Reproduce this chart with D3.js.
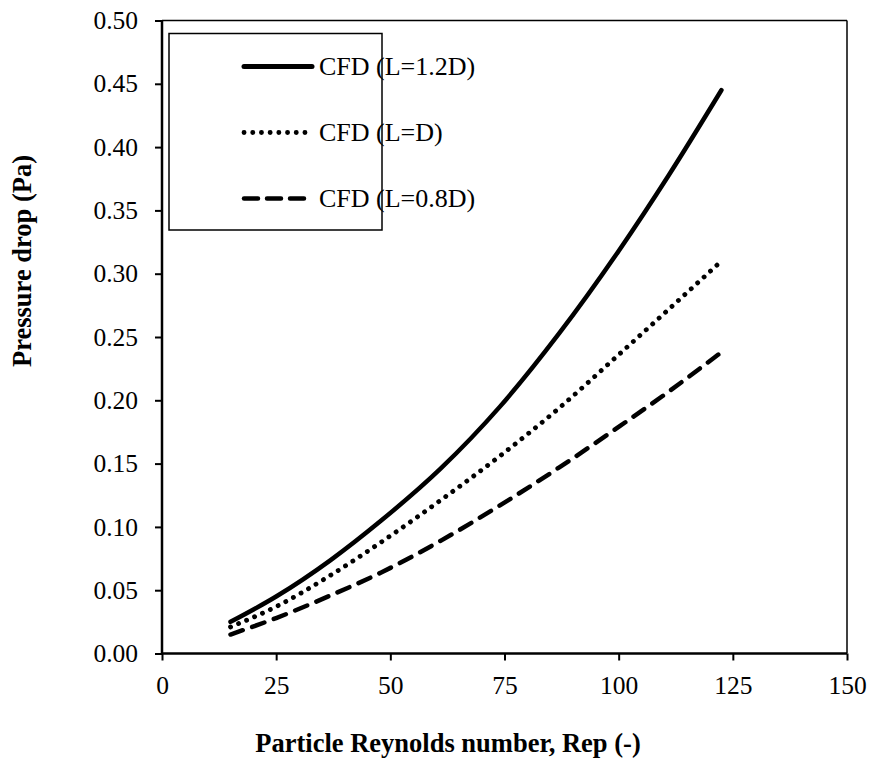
<!DOCTYPE html>
<html>
<head>
<meta charset="utf-8">
<script src="https://cdn.jsdelivr.net/npm/d3@7"></script>
<style>
  body { margin: 0; background: #fff; }
</style>
</head>
<body>
<svg id="chart" width="872" height="760"></svg>
<script>
// values
const rep = [15, 25, 37, 48, 61, 74, 87, 100, 111, 122.5]
const dpL12 = [0.025, 0.045, 0.074, 0.105, 0.146, 0.195, 0.253, 0.318, 0.378, 0.445]
const dpL10 = [0.021, 0.037, 0.062, 0.088, 0.121, 0.156, 0.194, 0.236, 0.272, 0.310]
const dpL08 = [0.015, 0.028, 0.046, 0.064, 0.089, 0.117, 0.147, 0.179, 0.207, 0.238]
const seriesNames = ['CFD (L=1.2D)', 'CFD (L=D)', 'CFD (L=0.8D)']
const xTicks = [0, 25, 50, 75, 100, 125, 150]
const yTicks = [0, 0.05, 0.1, 0.15, 0.2, 0.25, 0.3, 0.35, 0.4, 0.45, 0.5]

const font = "'Liberation Serif', 'Times New Roman', serif"
const plotLeft = 162, plotRight = 847, plotTop = 20.5, plotBottom = 653.5

const svg = d3.select('#chart')

const x = d3.scaleLinear().domain([0, 150]).range([plotLeft, plotRight])
const y = d3.scaleLinear().domain([0, 0.5]).range([plotBottom, plotTop])

// frame on top and right
svg.append('line')
  .attr('x1', plotLeft).attr('y1', plotTop).attr('x2', plotRight).attr('y2', plotTop)
  .attr('stroke', 'black').attr('stroke-width', 1.5)
svg.append('line')
  .attr('x1', plotRight).attr('y1', plotTop).attr('x2', plotRight).attr('y2', plotBottom)
  .attr('stroke', 'black').attr('stroke-width', 1.5)

const xAxis = svg.append('g')
  .attr('transform', `translate(0, ${plotBottom})`)
  .call(d3.axisBottom(x).tickValues(xTicks).tickSize(7).tickPadding(15).tickFormat(d3.format('d')))
const yAxis = svg.append('g')
  .attr('transform', `translate(${plotLeft}, 0)`)
  .call(d3.axisLeft(y).tickValues(yTicks).tickSize(7).tickPadding(17).tickFormat(d3.format('.2f')))

;[xAxis, yAxis].forEach(a => {
  a.attr('font-family', font).attr('font-size', 25.5)
  a.select('.domain').remove()
  a.selectAll('.tick line').attr('stroke-width', 2)
  a.selectAll('.tick text').attr('fill', 'black')
})
svg.append('line')
  .attr('x1', plotLeft).attr('y1', plotBottom).attr('x2', plotRight).attr('y2', plotBottom)
  .attr('stroke', 'black').attr('stroke-width', 2.5)
svg.append('line')
  .attr('x1', plotLeft).attr('y1', plotTop).attr('x2', plotLeft).attr('y2', plotBottom)
  .attr('stroke', 'black').attr('stroke-width', 2.5)

const styles = [
  { dash: null, width: 4.5 },
  { dash: '0.1 8.6', width: 4.8 },
  { dash: '13 10', width: 4.5 }
]

const line = d3.line()
  .x((d, i) => x(rep[i]))
  .y(d => y(d))
  .curve(d3.curveMonotoneX)

;[dpL12, dpL10, dpL08].forEach((vals, i) => {
  svg.append('path')
    .datum(vals)
    .attr('d', line)
    .attr('fill', 'none')
    .attr('stroke', 'black')
    .attr('stroke-width', styles[i].width)
    .attr('stroke-linecap', 'round')
    .attr('stroke-dasharray', styles[i].dash)
})

// legend
svg.append('rect')
  .attr('x', 169).attr('y', 33.5).attr('width', 213).attr('height', 196.5)
  .attr('fill', 'white').attr('stroke', 'black').attr('stroke-width', 1.5)

const legend = svg.selectAll('g.legend')
  .data(seriesNames)
  .enter().append('g')
  .attr('class', 'legend')
  .attr('transform', (d, i) => `translate(0, ${66.5 + i * 66})`)

legend.append('line')
  .attr('x1', 244).attr('x2', 312).attr('y1', 0).attr('y2', 0)
  .attr('stroke', 'black')
  .attr('stroke-width', (d, i) => i === 0 ? 5 : styles[i].width)
  .attr('stroke-linecap', 'round')
  .attr('stroke-dasharray', (d, i) => i === 2 ? '14 9' : styles[i].dash)

legend.append('text')
  .attr('x', 319).attr('y', 8.5)
  .attr('font-family', font)
  .attr('font-size', 26)
  .text(d => d)

svg.append('text')
  .attr('x', 448).attr('y', 752)
  .attr('text-anchor', 'middle')
  .attr('font-family', font)
  .attr('font-size', 26.5).attr('font-weight', 'bold')
  .text('Particle Reynolds number, Rep (-)')

svg.append('text')
  .attr('transform', 'translate(31, 367) rotate(-90)')
  .attr('text-anchor', 'start')
  .attr('font-family', font)
  .attr('font-size', 26.5).attr('font-weight', 'bold')
  .text('Pressure drop (Pa)')
</script>
</body>
</html>
